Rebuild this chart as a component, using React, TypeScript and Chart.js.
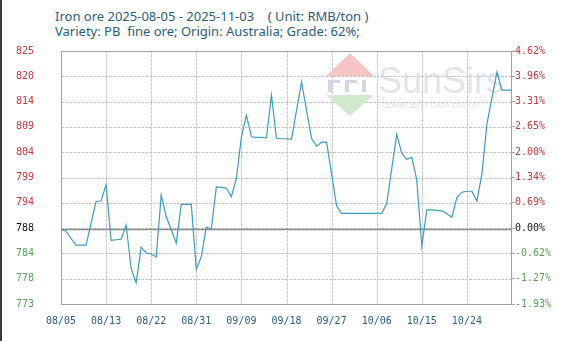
import React, { useEffect, useRef } from 'react';
import { Chart, registerables } from 'chart.js';

Chart.register(...registerables);

const titleLine1 = 'Iron ore 2025-08-05 - 2025-11-03    ( Unit: RMB/ton )';
const titleLine2 = 'Variety: PB  fine ore; Origin: Australia; Grade: 62%;';

const xTickLabels = ['08/05', '08/13', '08/22', '08/31', '09/09', '09/18', '09/27', '10/06', '10/15', '10/24'];
const pointsPerLabel = 9;

const prices = [
  788.0, 787.7, 786.2, 784.8, 784.8, 784.8, 789.3, 793.7, 793.8, 797.1,
  785.8, 785.9, 786.0, 788.9, 780.0, 777.1, 784.4, 783.2, 783.0, 782.4,
  795.0, 790.6, 788.0, 785.2, 793.1, 793.1, 793.1, 779.9, 782.4, 788.5,
  788.1, 796.7, 796.6, 796.4, 794.7, 798.4, 806.9, 811.3, 806.9, 806.8,
  806.8, 806.7, 815.4, 806.6, 806.5, 806.5, 806.4, 812.3, 818.1, 812.3,
  806.6, 805.0, 805.8, 805.8, 799.3, 792.8, 791.3, 791.3, 791.3, 791.3,
  791.3, 791.3, 791.3, 791.3, 791.3, 793.3, 800.4, 807.4, 803.5, 802.3,
  802.7, 798.1, 784.6, 792.0, 792.0, 791.9, 791.8, 791.2, 790.5, 794.5,
  795.6, 795.8, 795.8, 793.8, 799.4, 809.6, 814.8, 820.1, 816.4, 816.4,
  816.4,
];

const leftTickLabels = ['773', '778', '784', '788', '794', '799', '804', '809', '814', '820', '825'];
const rightTickLabels = ['-1.93%', '-1.27%', '-0.62%', '0.00%', '0.69%', '1.34%', '2.00%', '2.65%', '3.31%', '3.96%', '4.62%'];
const basePrice = 788;
const baseIndex = 3;
const yMin = 772.8;
const yMax = 824.4;

const RED = '#c0393b';
const GREEN = '#5a9e5a';
const BLACK = '#111111';
const TEAL = '#2a5d7a';
const LINE = '#3d9bbd';
const GRID = '#c6c6c6';

const tickColor = (ctx: any) => (ctx.index < baseIndex ? GREEN : ctx.index === baseIndex ? BLACK : RED);

const yTicks = () => leftTickLabels.map((_, k) => ({ value: yMin + (k * (yMax - yMin)) / (leftTickLabels.length - 1) }));

const decorPlugin = {
  id: 'decor',
  beforeDatasetsDraw(chart: any) {
    const { ctx, chartArea, scales } = chart;
    const left = Math.round(chartArea.left);
    const right = Math.round(chartArea.right);
    const top = Math.round(chartArea.top);
    const bottom = Math.round(chartArea.bottom);
    ctx.save();
    // grid lines (light, dotted)
    ctx.strokeStyle = GRID;
    ctx.lineWidth = 1;
    ctx.setLineDash([3, 1]);
    ctx.beginPath();
    for (let k = 1; k < xTickLabels.length; k++) {
      const px = Math.round(scales.x.getPixelForValue(k * pointsPerLabel)) + 0.5;
      ctx.moveTo(px, top);
      ctx.lineTo(px, bottom);
    }
    for (let k = 1; k < leftTickLabels.length - 1; k++) {
      const v = yMin + (k * (yMax - yMin)) / (leftTickLabels.length - 1);
      const py = Math.round(scales.y.getPixelForValue(v)) + 0.5;
      ctx.moveTo(left, py);
      ctx.lineTo(right, py);
    }
    ctx.stroke();
    ctx.setLineDash([]);
    // watermark logo
    ctx.fillStyle = '#f6c6c6';
    ctx.beginPath();
    ctx.moveTo(350, 53);
    ctx.lineTo(374, 76);
    ctx.lineTo(326, 76);
    ctx.closePath();
    ctx.fill();
    ctx.fillStyle = '#d2e9d0';
    ctx.beginPath();
    ctx.moveTo(326, 95);
    ctx.lineTo(374, 95);
    ctx.lineTo(350, 116);
    ctx.closePath();
    ctx.fill();
    ctx.fillStyle = '#d3d7e3';
    ctx.fillRect(328, 80, 4, 12);
    ctx.fillRect(332, 80, 8, 3);
    ctx.fillRect(345, 80, 4, 12);
    ctx.fillRect(349, 80, 8, 3);
    ctx.fillRect(362, 80, 4, 12);
    ctx.fillStyle = 'rgba(205,210,220,0.6)';
    ctx.font = '36px "Liberation Sans", Arial, sans-serif';
    ctx.textBaseline = 'alphabetic';
    ctx.fillText('SunSirs', 378, 93);
    ctx.fillStyle = '#e0e0e0';
    ctx.font = '7.5px "Liberation Sans", Arial, sans-serif';
    ctx.fillText('COMMODITY DATA GROUP', 382, 108);
    // baseline
    const yb = scales.y.getPixelForValue(basePrice);
    ctx.strokeStyle = '#8c8c8c';
    ctx.lineWidth = 1.5;
    ctx.beginPath();
    ctx.moveTo(left, yb);
    ctx.lineTo(right, yb);
    ctx.stroke();
    // frame
    ctx.strokeStyle = '#a0a0a0';
    ctx.lineWidth = 1;
    ctx.strokeRect(left + 0.5, top + 0.5, right - left - 1, bottom - top);
    ctx.restore();
  },
};

export default function App() {
  const canvasRef = useRef<HTMLCanvasElement>(null);

  useEffect(() => {
    const canvas = canvasRef.current;
    if (!canvas) return;
    const chart = new Chart(canvas, {
      type: 'line',
      data: {
        datasets: [
          {
            data: prices.map((v, i) => ({ x: i, y: v })),
            borderColor: LINE,
            borderWidth: 1.2,
            pointRadius: 0,
            tension: 0,
            fill: false,
            yAxisID: 'y',
            xAxisID: 'x',
          },
        ],
      },
      options: {
        responsive: false,
        animation: false,
        layout: { padding: { left: 16, right: 0, top: 51, bottom: 0 } },
        plugins: { legend: { display: false }, tooltip: { enabled: false }, title: { display: false } },
        scales: {
          x: {
            type: 'linear',
            min: 0,
            max: prices.length - 1,
            afterBuildTicks: (s: any) => {
              s.ticks = xTickLabels.map((_, k) => ({ value: k * pointsPerLabel }));
            },
            afterFit: (s: any) => {
              s.height = 37;
            },
            ticks: {
              autoSkip: false,
              maxRotation: 0,
              callback: (_v: any, idx: number) => xTickLabels[idx],
              color: TEAL,
              font: { family: '"DejaVu Sans Mono", monospace', size: 10 },
              padding: 11,
            },
            grid: { display: false, drawTicks: false },
            border: { display: false },
          },
          y: {
            position: 'left',
            min: yMin,
            max: yMax,
            afterBuildTicks: (s: any) => {
              s.ticks = yTicks();
            },
            afterFit: (s: any) => {
              s.width = 45;
            },
            ticks: {
              autoSkip: false,
              callback: (_v: any, idx: number) => leftTickLabels[idx],
              color: tickColor,
              crossAlign: 'far',
              padding: 0,
              font: { family: '"DejaVu Sans Mono", monospace', size: 10 },
            },
            grid: { display: false, drawTicks: false },
            border: { display: false },
          },
          y1: {
            position: 'right',
            display: true,
            min: yMin,
            max: yMax,
            afterBuildTicks: (s: any) => {
              s.ticks = yTicks();
            },
            afterFit: (s: any) => {
              s.width = 61;
            },
            ticks: {
              autoSkip: false,
              callback: (_v: any, idx: number) => rightTickLabels[idx],
              color: tickColor,
              padding: 0,
              font: { family: '"DejaVu Sans Mono", monospace', size: 10 },
            },
            grid: { drawOnChartArea: false, drawTicks: true, tickLength: 3, color: '#a0a0a0' },
            border: { display: false },
          },
        },
      },
      plugins: [decorPlugin],
    });
    return () => chart.destroy();
  }, []);

  const titleStyle: React.CSSProperties = {
    position: 'absolute',
    left: 55,
    margin: 0,
    whiteSpace: 'pre',
    color: TEAL,
    fontFamily: '"Noto Sans", sans-serif',
    fontSize: 13,
    lineHeight: '15px',
  };

  return (
    <div style={{ position: 'fixed', left: 0, top: 0, width: 573, height: 341, background: '#fff', overflow: 'hidden' }}>
      <div style={{ position: 'absolute', left: 0, top: 0, width: 2, height: 341, background: '#3a3a3a' }} />
      <div style={{ ...titleStyle, top: 9 }}>{titleLine1}</div>
      <div style={{ ...titleStyle, top: 24 }}>{titleLine2}</div>
      <canvas ref={canvasRef} width={573} height={341} style={{ position: 'absolute', left: 0, top: 0, width: 573, height: 341 }} />
    </div>
  );
}
